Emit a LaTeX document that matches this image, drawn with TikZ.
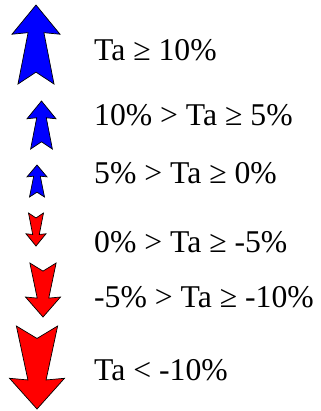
\documentclass[tikz,border=0pt]{standalone}
\usepackage{fontspec}
\setmainfont{Liberation Serif}
\definecolor{upblue}{RGB}{0,0,255}
\definecolor{downred}{RGB}{255,0,0}
\tikzset{
  arrowshape/.style={draw=black, line width=0.7bp, line join=miter},
  label/.style={anchor=base west, inner sep=0pt, font=\fontsize{31.8}{32}\selectfont},
  pics/fatarrow/.style={code={
    \path[arrowshape, fill=#1] (0,0) -- (1,0.37) -- (0.33,0.35) -- (0.75,1) -- (0,0.85)
      -- (-0.75,1) -- (-0.33,0.35) -- (-1,0.37) -- cycle;
  }}
}
\begin{document}
\begin{tikzpicture}[x=1bp,y=-1bp]
\useasboundingbox (0,0) rectangle (321,411);
% up arrows (shift to tip, scale half-width / height)
\pic[shift={(36,5)}, xscale=24, yscale=79] {fatarrow=upblue};
\pic[shift={(41.5,101)}, xscale=14.5, yscale=48] {fatarrow=upblue};
\pic[shift={(37,165)}, xscale=10, yscale=32] {fatarrow=upblue};
% down arrows
\pic[shift={(36,246)}, xscale=10, yscale=-33] {fatarrow=downred};
\pic[shift={(43,317)}, xscale=17.5, yscale=-54] {fatarrow=downred};
\pic[shift={(37,409)}, xscale=27.5, yscale=-83] {fatarrow=downred};
% labels
\node[label] (l1) at (94,60) {Ta ≥ 10\%};
\node[label] (l2) at (94,125) {10\% > Ta ≥ 5\%};
\node[label] (l3) at (94,183) {5\% > Ta ≥ 0\%};
\node[label] (l4) at (94,252) {0\% > Ta ≥ -5\%};
\node[label] (l5) at (94,307) {-5\% > Ta ≥ -10\%};
\node[label] (l6) at (94,380) {Ta < -10\%};
\end{tikzpicture}
\end{document}
